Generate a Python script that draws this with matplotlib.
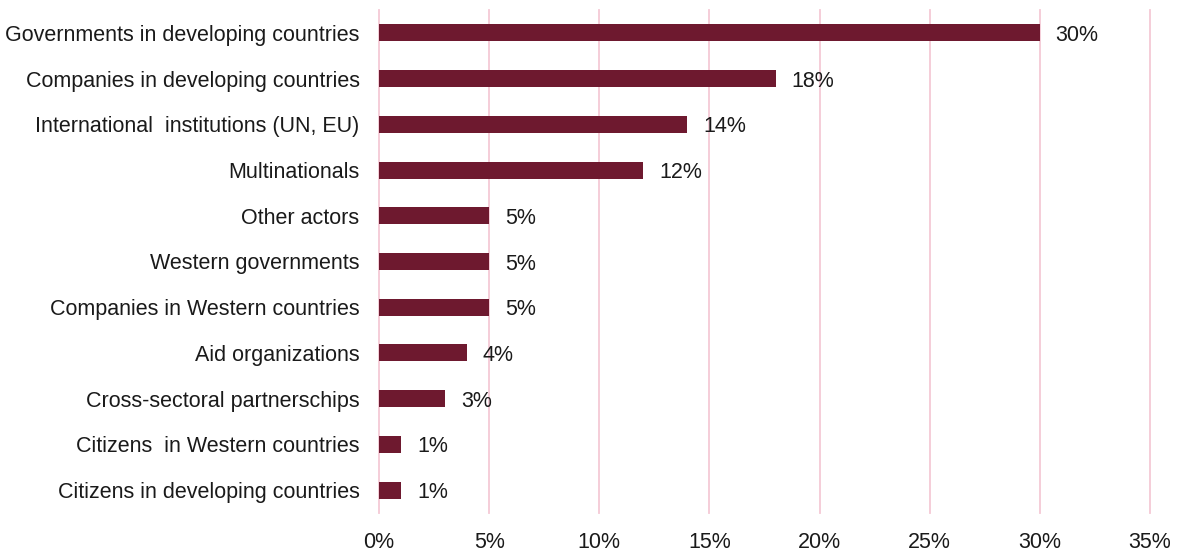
import matplotlib
matplotlib.use("Agg")
import matplotlib.pyplot as plt
from matplotlib.ticker import FuncFormatter

plt.rcParams['font.family'] = ['Liberation Sans', 'DejaVu Sans']

categories = [
    "Governments in developing countries",
    "Companies in developing countries",
    "International  institutions (UN, EU)",
    "Multinationals",
    "Other actors",
    "Western governments",
    "Companies in Western countries",
    "Aid organizations",
    "Cross-sectoral partnerschips",
    "Citizens  in Western countries",
    "Citizens in developing countries",
]
values = [30, 18, 14, 12, 5, 5, 5, 4, 3, 1, 1]
xticks = [0, 5, 10, 15, 20, 25, 30, 35]

BAR = '#6e192f'
GRID = '#f5c9d5'
TXT = '#1a1a1a'
FS = 15.5

fig = plt.figure(figsize=(11.79, 5.52), dpi=100)
ax = fig.add_axes([379/1179, 1 - 513/552, (1150 - 379)/1179, (513 - 10)/552])

y = list(range(len(categories)))
ax.barh(y, values, height=0.37, color=BAR, zorder=3)
for yi, v in zip(y, values):
    ax.text(v + 0.72, yi, f"{v}%", va='center_baseline', ha='left',
            fontsize=FS, color=TXT)

for xt in xticks:
    ax.axvline(xt, color=GRID, lw=1.3, zorder=0, clip_on=False)

ax.set_ylim(len(categories) - 0.5, -0.5)
ax.set_xlim(0, 35)
ax.set_yticks(y)
ax.set_yticklabels(categories, fontsize=FS, color=TXT)
ax.set_xticks(xticks)
ax.xaxis.set_major_formatter(FuncFormatter(lambda v, p: f"{v:.0f}%"))
ax.tick_params(axis='x', labelsize=FS, colors=TXT, length=0, pad=14)
ax.tick_params(axis='y', length=0, pad=14)
for s in ax.spines.values():
    s.set_visible(False)

fig.savefig('out.png', dpi=100)
